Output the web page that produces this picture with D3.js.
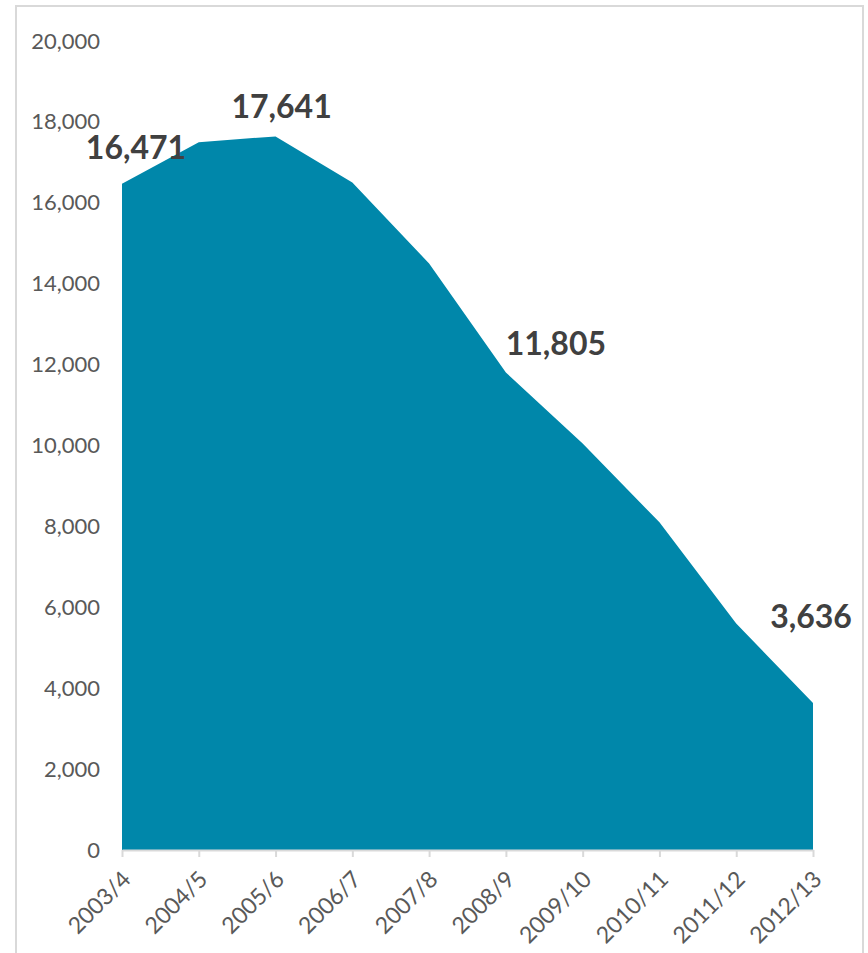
<!DOCTYPE html>
<html>
<head>
<meta charset="utf-8">
<script src="https://cdn.jsdelivr.net/npm/d3@7"></script>
<style>
  html, body { margin: 0; padding: 0; background: #fff; }
  svg { display: block; }
</style>
</head>
<body>
<div id="chart"></div>
<script>
// ---- data ----
const categories = ["2003/4","2004/5","2005/6","2006/7","2007/8","2008/9","2009/10","2010/11","2011/12","2012/13"];
const values = [16471, 17500, 17641, 16500, 14500, 11805, 10050, 8100, 5600, 3636];
const yTicks = [0, 2000, 4000, 6000, 8000, 10000, 12000, 14000, 16000, 18000, 20000];
const labelled = ["2003/4", "2005/6", "2008/9", "2012/13"];

// ---- layout ----
const W = 868, H = 953;
const labelOffsets = { "2003/4": [14, -25], "2005/6": [6, -18], "2008/9": [50, -17], "2012/13": [-2, -75] };

const svg = d3.select("#chart").append("svg").attr("width", W).attr("height", H);
svg.append("rect").attr("width", W).attr("height", H).attr("fill", "#fff");

// outer frame
svg.append("rect").attr("x", 16).attr("y", 6).attr("width", 847).attr("height", 980)
  .attr("fill", "none").attr("stroke", "#d9d9d9").attr("stroke-width", 2);

const x = d3.scalePoint().domain(categories).range([122, 813]);
const y = d3.scaleLinear().domain([0, 20000]).range([850, 41]);

const data = categories.map((c, i) => ({ c, v: values[i] }));

// area
const area = d3.area().x(d => x(d.c)).y0(y(0)).y1(d => y(d.v));
svg.append("path").datum(data).attr("d", area).attr("fill", "#0087aa");

const font = "Lato, 'Open Sans', sans-serif";

// y axis
const yAxis = svg.append("g").attr("transform", "translate(100,0)")
  .call(d3.axisLeft(y).tickValues(yTicks).tickFormat(d3.format(",")).tickSize(0).tickPadding(0));
yAxis.select(".domain").remove();
yAxis.selectAll("text").attr("fill", "#595959").style("font-family", font).style("font-size", "22px");

// x axis
const xAxis = svg.append("g").attr("transform", `translate(0,${y(0)})`)
  .call(d3.axisBottom(x).tickSizeInner(7).tickSizeOuter(0));
xAxis.select(".domain").attr("stroke", "#d9d9d9").attr("stroke-width", 2);
xAxis.selectAll(".tick line").attr("stroke", "#d9d9d9").attr("stroke-width", 2);
xAxis.selectAll("text")
  .attr("fill", "#595959").style("font-family", font).style("font-size", "23px")
  .attr("text-anchor", "end").attr("x", 0).attr("y", 0).attr("dy", "0.35em")
  .attr("transform", "translate(4,25) rotate(-45)");

// data labels
svg.append("g").selectAll("text").data(data.filter(d => labelled.includes(d.c))).join("text")
  .attr("x", d => x(d.c) + labelOffsets[d.c][0])
  .attr("y", d => y(d.v) + labelOffsets[d.c][1])
  .attr("text-anchor", "middle")
  .attr("fill", "#404040")
  .style("font-family", font).style("font-weight", "bold").style("font-size", "32px")
  .text(d => d3.format(",")(d.v));
</script>
</body>
</html>
